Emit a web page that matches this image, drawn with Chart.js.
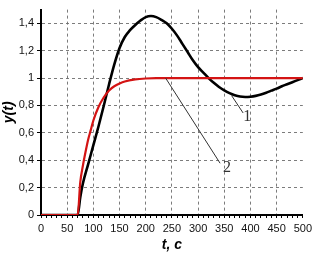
<!DOCTYPE html>
<html>
<head>
<meta charset="utf-8">
<script src="https://cdn.jsdelivr.net/npm/chart.js@4/dist/chart.umd.min.js"></script>
<style>
  html, body { margin: 0; padding: 0; background: #fff; }
  #wrap { width: 316px; height: 255px; }
</style>
</head>
<body>
<div id="wrap"><canvas id="step_chart"></canvas></div>
<script>
// time, s
const times_1 = [0,70,75,80,90,100,110,120,130,140,150,160,170,180,190,200,210,220,230,240,250,260,270,280,290,300,310,320,330,340,350,360,370,380,390,400,410,420,430,440,450,460,470,480,490,500];
// curve 1 (black)
const y_1 = [0,0,0.13,0.23,0.37,0.51,0.65,0.80,0.955,1.10,1.22,1.30,1.35,1.388,1.42,1.445,1.453,1.445,1.425,1.40,1.36,1.31,1.25,1.19,1.13,1.08,1.04,1.0,0.965,0.935,0.91,0.89,0.875,0.865,0.862,0.864,0.87,0.88,0.893,0.908,0.923,0.94,0.955,0.97,0.985,1.0];
const times_2 = [0,70,75,80,85,90,95,100,110,120,130,140,150,160,180,200,220,250,300,350,400,450,500];
// curve 2 (red)
const y_2 = [0,0,0.24,0.36,0.46,0.55,0.62,0.69,0.79,0.86,0.91,0.94,0.96,0.975,0.99,0.997,1,1,1,1,1,1,1];
const y_ticks = [0,0.2,0.4,0.6,0.8,1,1.2,1.4];
// curve numbers and their leader lines, in data units
const labels_pos = [
  {text: "1", x: 394, y: 0.716, from: [364, 0.872], to: [386, 0.745]},
  {text: "2", x: 355, y: 0.343, from: [238, 1.0], to: [342, 0.378]},
];

function to_points(xs, ys){
  return xs.map((x, i) => ({x: x, y: ys[i]}));
}

const curve_labels = {
  id: "curve_labels",
  afterDatasetsDraw(chart){
    const ctx = chart.ctx;
    const sx = chart.scales.x, sy = chart.scales.y;
    ctx.save();
    ctx.strokeStyle = "#333";
    ctx.lineWidth = 1;
    ctx.fillStyle = "#333";
    ctx.font = "16px 'Liberation Serif'";
    ctx.textAlign = "center";
    ctx.textBaseline = "middle";
    labels_pos.forEach(l => {
      ctx.beginPath();
      ctx.moveTo(sx.getPixelForValue(l.from[0]), sy.getPixelForValue(l.from[1]));
      ctx.lineTo(sx.getPixelForValue(l.to[0]), sy.getPixelForValue(l.to[1]));
      ctx.stroke();
      ctx.fillText(l.text, sx.getPixelForValue(l.x), sy.getPixelForValue(l.y));
    });
    ctx.restore();
  }
};

const grid_color = "rgba(110,110,110,0.9)";
const step_canvas = document.getElementById("step_chart");
const step_chart = new Chart(step_canvas, {
  type: "line",
  data: {
    datasets: [
      {
        label: "2",
        data: to_points(times_2, y_2),
        borderColor: "#d41414",
        borderWidth: 2.2,
        pointRadius: 0,
        cubicInterpolationMode: "monotone",
        fill: false,
      },
      {
        label: "1",
        data: to_points(times_1, y_1),
        borderColor: "#000",
        borderWidth: 2.6,
        pointRadius: 0,
        cubicInterpolationMode: "monotone",
        fill: false,
      },
    ]
  },
  options: {
    responsive: true,
    maintainAspectRatio: false,
    animation: false,
    layout: { padding: { top: 4, right: 2, left: 0, bottom: 0 } },
    plugins: {
      legend: { display: false },
      tooltip: { enabled: false },
    },
    scales: {
      x: {
        type: "linear",
        min: 0,
        max: 500,
        afterFit: (scale) => { scale.height = 40; },
        ticks: {
          stepSize: 10,
          autoSkip: false,
          maxRotation: 0,
          padding: 4,
          color: "#111",
          font: { family: "'Liberation Sans'", size: 11 },
          callback: (v) => (v % 50 === 0 ? String(v) : ""),
        },
        grid: {
          color: (c) => (c.tick && c.tick.value % 50 === 0 && c.tick.value > 0 && c.tick.value < 500 ? grid_color : "transparent"),
          tickColor: "#000",
          tickLength: 3,
          tickBorderDash: [],
          lineWidth: 1,
        },
        border: { color: "#000", width: 2, dash: [3, 3] },
        title: {
          display: true,
          text: "t, c",
          color: "#000",
          font: { family: "'Liberation Sans'", size: 14, weight: "bold", style: "italic" },
          padding: { top: 0, bottom: 1 },
        },
      },
      y: {
        min: 0,
        max: 1.5,
        afterBuildTicks: (scale) => { scale.ticks = y_ticks.map(v => ({value: v})); },
        afterFit: (scale) => { scale.width = 41; },
        ticks: {
          padding: 3,
          color: "#111",
          font: { family: "'Liberation Sans'", size: 11 },
          callback: (v) => String(+v.toFixed(1)).replace(".", ","),
        },
        grid: {
          color: (c) => (c.tick && c.tick.value > 0 ? grid_color : "transparent"),
          tickColor: "#000",
          tickLength: 4,
          tickBorderDash: [],
          lineWidth: 1,
        },
        border: { color: "#000", width: 2, dash: [3, 3] },
        title: {
          display: true,
          text: "y(t)",
          color: "#000",
          font: { family: "'Liberation Sans'", size: 14, weight: "bold", style: "italic", lineHeight: 1 },
          padding: { top: 2, bottom: 0 },
        },
      },
    },
  },
  plugins: [curve_labels],
});
</script>
</body>
</html>
